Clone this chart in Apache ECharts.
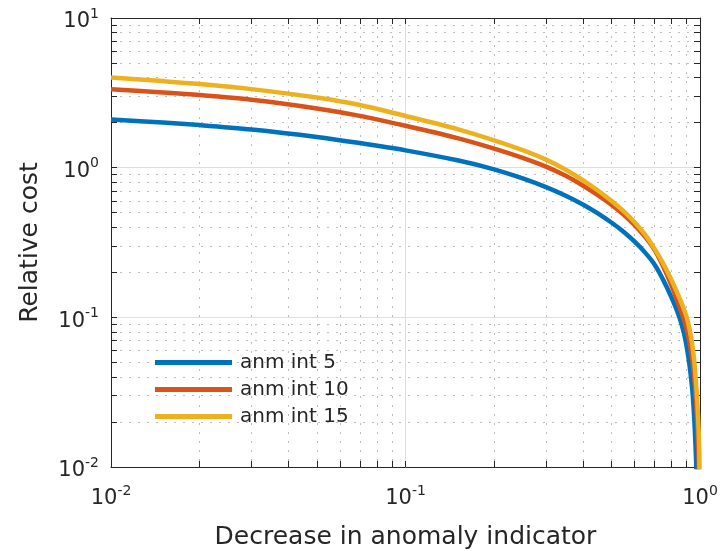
<!DOCTYPE html>
<html>
<head>
<meta charset="utf-8">
<script src="https://cdn.jsdelivr.net/npm/echarts@6/dist/echarts.min.js"></script>
<style>
html,body{margin:0;padding:0;background:#fff}
#chart{width:722px;height:551px}
</style>
</head>
<body>
<div id="chart"></div>
<script>
var xValues = [0.01, 0.015, 0.02, 0.03, 0.05, 0.07, 0.1, 0.15, 0.2, 0.25, 0.3, 0.35, 0.4, 0.45, 0.5, 0.55, 0.6, 0.65, 0.7, 0.75, 0.8, 0.85, 0.88, 0.9, 0.92, 0.94, 0.95, 0.96, 0.97, 0.98, 0.99, 0.995, 0.999];
var cost5  = [2.10, 2.00, 1.925, 1.80, 1.605, 1.46, 1.305, 1.12, 0.975, 0.848, 0.742, 0.65, 0.568, 0.495, 0.43, 0.373, 0.32, 0.2716, 0.2265, 0.178, 0.136, 0.101, 0.080, 0.0645, 0.049, 0.034, 0.026, 0.018, 0.011, 0.0057, 0.0022, 0.0009, 0.0001];
var cost10 = [3.34, 3.18, 3.056, 2.841, 2.487, 2.218, 1.905, 1.577, 1.342, 1.164, 1.017, 0.882, 0.760, 0.656, 0.566, 0.486, 0.413, 0.3465, 0.2836, 0.2182, 0.1632, 0.1191, 0.0981, 0.0838, 0.0688, 0.0532, 0.0449, 0.0361, 0.0270, 0.01825, 0.01045, 0.007, 0.002];
var cost15 = [4.01, 3.789, 3.623, 3.348, 2.939, 2.621, 2.216, 1.81, 1.523, 1.309, 1.131, 0.969, 0.826, 0.704, 0.601, 0.5123, 0.4323, 0.358, 0.2888, 0.2284, 0.1776, 0.136, 0.1145, 0.1009, 0.0845, 0.067, 0.057, 0.0465, 0.036, 0.0265, 0.0172, 0.0120, 0.0055];
var seriesNames = ['anm int 5', 'anm int 10', 'anm int 15'];
var colors = ['#0072BD', '#D95319', '#EDB120'];

var xMajor = [0.01, 0.1, 1];
var xMinor = [0.02, 0.03, 0.04, 0.05, 0.06, 0.07, 0.08, 0.09, 0.2, 0.3, 0.4, 0.5, 0.6, 0.7, 0.8, 0.9];
var yMajor = [0.01, 0.1, 1, 10];
var yMinor = [0.02, 0.03, 0.04, 0.05, 0.06, 0.07, 0.08, 0.09, 0.2, 0.3, 0.4, 0.5, 0.6, 0.7, 0.8, 0.9, 2, 3, 4, 5, 6, 7, 8, 9];

var textColor = '#262626';
var fontFamily = 'DejaVu Sans';

function powLabel(v) {
    var e = Math.round(Math.log(v) / Math.LN10);
    return '{b|10}{s|' + e + '}';
}
var powRich = {
    b: {fontSize: 21, fontFamily: fontFamily, color: textColor},
    s: {fontSize: 14, fontFamily: fontFamily, color: textColor, padding: [0, 0, 16, 0]}
};

function pairs(ys) {
    return xValues.map(function (x, i) { return [x, ys[i]]; });
}

// one axis: ticks / labels / grid picked by flags
function makeAxis(min, max, pos, opts) {
    return {
        type: 'log',
        logBase: 10,
        min: min,
        max: max,
        position: pos,
        axisLine: {show: !!opts.line, onZero: false, lineStyle: {color: textColor, width: 1}},
        axisTick: {show: !!opts.ticks, inside: true, length: 6, customValues: opts.tickValues, lineStyle: {color: textColor, width: 1}},
        axisLabel: opts.labels ? {show: true, customValues: opts.labelValues, formatter: powLabel, rich: powRich, margin: opts.margin, padding: opts.labelPad || 0} : {show: false},
        splitLine: opts.grid ? {show: true, lineStyle: opts.grid} : {show: false},
        minorTick: {show: false},
        minorSplitLine: {show: false},
        name: opts.name || '',
        nameLocation: 'middle',
        nameGap: opts.nameGap || 0,
        nameTextStyle: {fontSize: 25, fontFamily: fontFamily, color: textColor},
        z: 0
    };
}

var minorGrid = {color: '#bdbdbd', width: 1, type: [2, 7]};
var majorGrid = {color: '#dedede', width: 1, type: 'solid'};

var option = {
    backgroundColor: '#fff',
    animation: false,
    grid: {left: 111, right: 22, top: 18, bottom: 84, containLabel: false, outerBoundsMode: 'none'},
    legend: {
        orient: 'vertical',
        left: 155,
        top: 352,
        padding: 0,
        icon: 'rect',
        itemWidth: 77,
        itemHeight: 5,
        itemGap: 6,
        textStyle: {fontSize: 20, fontFamily: fontFamily, color: textColor, lineHeight: 21, padding: [0, 0, 0, 3]},
        data: seriesNames
    },
    xAxis: [
        makeAxis(0.01, 1, 'bottom', {line: true, ticks: true, tickValues: xMajor.concat(xMinor), labels: true, labelValues: xMajor, margin: 17, grid: minorGrid, name: 'Decrease in anomaly indicator', nameGap: 58}),
        makeAxis(0.01, 1, 'top', {line: true, ticks: true, tickValues: xMajor.concat(xMinor)}),
        makeAxis(0.01, 1, 'bottom', {tickValues: xMajor, grid: majorGrid})
    ],
    yAxis: [
        makeAxis(0.01, 10, 'left', {line: true, ticks: true, tickValues: yMajor.concat(yMinor), labels: true, labelValues: yMajor, margin: 12, labelPad: [8, 0, 0, 0], grid: minorGrid, name: 'Relative cost', nameGap: 68}),
        makeAxis(0.01, 10, 'right', {line: true, ticks: true, tickValues: yMajor.concat(yMinor)}),
        makeAxis(0.01, 10, 'left', {tickValues: yMajor, grid: majorGrid})
    ],
    series: [cost5, cost10, cost15].map(function (ys, i) {
        return {
            name: seriesNames[i],
            type: 'line',
            xAxisIndex: 0,
            yAxisIndex: 0,
            data: pairs(ys),
            showSymbol: false,
            symbol: 'none',
            smooth: 0.3,
            clip: true,
            color: colors[i],
            lineStyle: {width: 4.5, color: colors[i]},
            z: 3 + i
        };
    })
};

var myChart = echarts.init(document.getElementById('chart'), null, {renderer: 'canvas'});
myChart.setOption(option);
</script>
</body>
</html>
